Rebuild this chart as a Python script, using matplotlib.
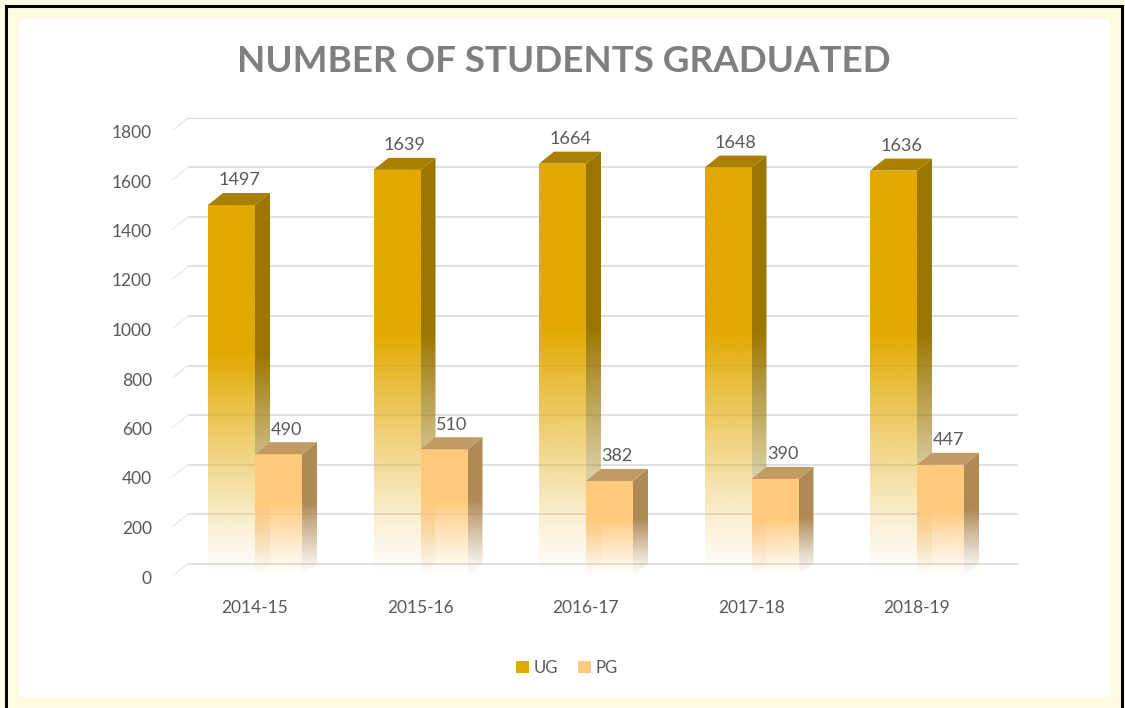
import numpy as np
import matplotlib
matplotlib.use("Agg")
import matplotlib.pyplot as plt
from matplotlib.patches import Polygon, Rectangle, Patch
from matplotlib.colors import to_rgb

# data
years = ["2014-15", "2015-16", "2016-17", "2017-18", "2018-19"]
ug = [1497, 1639, 1664, 1648, 1636]
pg = [490, 510, 382, 390, 447]
yticks = [0, 200, 400, 600, 800, 1000, 1200, 1400, 1600, 1800]

plt.rcParams["font.family"] = ["Lato", "DejaVu Sans"]

W, H = 1125, 708
fig = plt.figure(figsize=(W / 100, H / 100), dpi=100, facecolor="#FFFAE0")

# white panel + black frame
fig.patches.append(Rectangle((19 / W, 1 - 697 / H), (1110 - 19) / W, (697 - 19) / H,
                             transform=fig.transFigure, facecolor="white", edgecolor="none", zorder=-2))
fig.patches.append(Rectangle((5.5 / W, -0.05), (1122 - 5.5) / W, 1 - 6 / H + 0.05,
                             transform=fig.transFigure, facecolor="none", edgecolor="black",
                             lw=2.2, zorder=-1))

# axes placed in pixels: value 1800 at y=118, value 0 at y=563.5
ppu = (563.5 - 118) / 1800.0
ymin = -75
bottom_px = 563.5 - ymin * ppu
ax = fig.add_axes([188 / W, 1 - bottom_px / H, (1018 - 188) / W, (bottom_px - 118) / H])
ax.set_facecolor("none")
ax.axis("off")
xlo, xhi = (188 - 255) / 165.5, (1018 - 255) / 165.5

bw = 47 / 165.5      # front face width
dx = 15 / 165.5      # depth offset
dy = 12 / ppu

# back wall gridlines with short side-wall tails
for t in yticks:
    ax.plot([xlo, xhi], [t, t], color="#D9D9D9", lw=1.1, zorder=1)
    ax.plot([xlo - dx, xlo], [t - dy, t], color="#EAEAEA", lw=1.0, zorder=1, clip_on=False)
    ax.text(-0.0434, t - dy - 3 / ppu, str(t), transform=ax.get_yaxis_transform(), ha="right",
            va="center", fontsize=12.5, color="#595959")


def shaded(poly, color, x0, x1, y0, y1, fb, ft, z):
    # colour fades to nothing towards the base of the bar (relative to bar height)
    n = 300
    yy = np.linspace(y0, y1, n)
    frac = np.clip((yy - fb) / (ft - fb), 0, 1)
    img = np.zeros((n, 2, 4))
    img[..., :3] = to_rgb(color)
    img[..., 3] = (np.clip(frac / 0.6, 0, 1) ** 1.15)[:, None]
    p = Polygon(poly, closed=True, facecolor="none", edgecolor="none")
    ax.add_patch(p)
    im = ax.imshow(img, origin="lower", extent=[x0, x1, y0, y1], aspect="auto",
                   interpolation="bilinear", zorder=z)
    im.set_clip_path(p)


def bar3d(x0, v, front, side, top, z):
    b = -dy
    t = v - dy
    shaded([(x0, b), (x0 + bw, b), (x0 + bw, t), (x0, t)], front, x0, x0 + bw, b, t, b, t, z)
    shaded([(x0 + bw, b), (x0 + bw + dx, 0), (x0 + bw + dx, v), (x0 + bw, t)], side,
           x0 + bw, x0 + bw + dx, b, v, b, t, z)
    ax.add_patch(Polygon([(x0, t), (x0 + bw, t), (x0 + bw + dx, v), (x0 + dx, v)],
                         closed=True, facecolor=top, edgecolor="none", zorder=z + 0.1))
    ax.annotate(str(v), (x0 + bw / 2 + dx / 2, v), xytext=(0, 9), textcoords="offset points",
                ha="center", va="center", fontsize=13, color="#595959", zorder=10)


for i in range(len(years)):
    bar3d(i - bw, ug[i], "#E2A900", "#9C7600", "#A98000", 2 + i)
    bar3d(i, pg[i], "#FFCA7C", "#B08A55", "#C29A64", 2.5 + i)
    ax.text(i, ymin - 26 / ppu, years[i], ha="center", va="center", fontsize=12.5, color="#595959")

ax.set_xlim(xlo, xhi)
ax.set_ylim(ymin, 1800)

fig.text(564 / W, 1 - 62 / H, "NUMBER OF STUDENTS GRADUATED", ha="center", va="center",
         fontsize=26.5, fontweight="bold", color="#7F7F7F")

handles = [Patch(facecolor="#E2A900", label="UG"), Patch(facecolor="#FFCA7C", label="PG")]
fig.legend(handles=handles, loc="center", bbox_to_anchor=(567 / W, 1 - 668 / H), ncol=2,
           frameon=False, fontsize=12, labelcolor="#595959", handlelength=0.75,
           handleheight=0.75, handletextpad=0.3, columnspacing=1.2)

fig.savefig("out.png", dpi=100, facecolor=fig.get_facecolor())
